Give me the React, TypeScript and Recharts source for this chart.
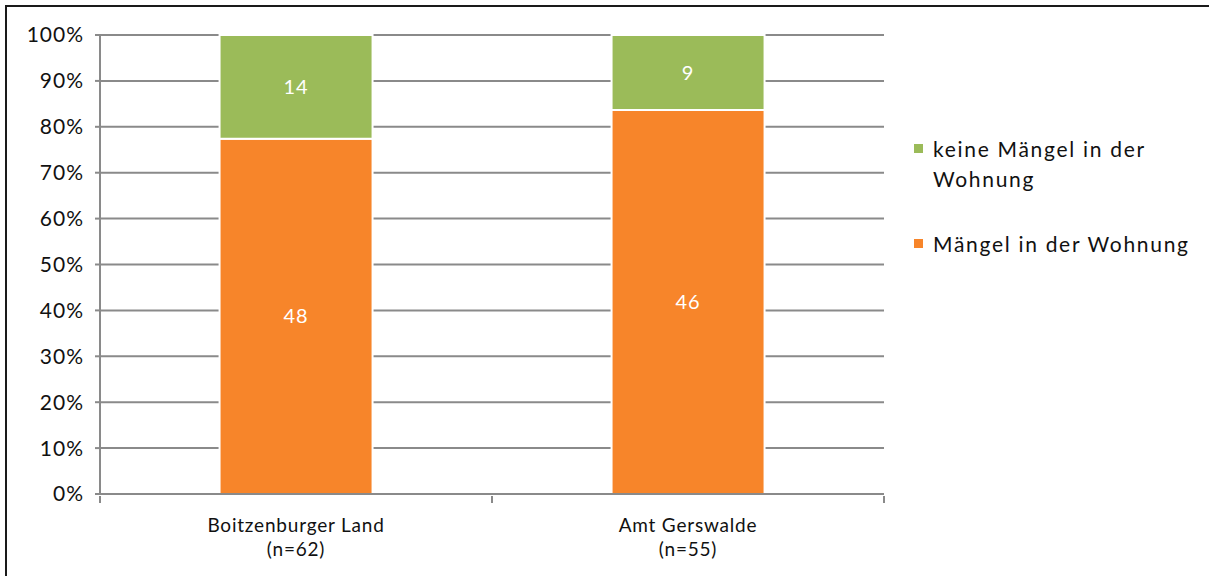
import React from 'react'
import { BarChart, Bar, XAxis, YAxis, CartesianGrid, LabelList } from 'recharts'

const categories = ['Boitzenburger Land', 'Amt Gerswalde']
const sampleSizes = ['(n=62)', '(n=55)']
const maengel = [48, 46]
const keineMaengel = [14, 9]
const yTicks = [0, 0.1, 0.2, 0.3, 0.4, 0.5, 0.6, 0.7, 0.8, 0.9, 1]

const seriesNames = ['keine Mängel in der Wohnung', 'Mängel in der Wohnung']
const GREEN = '#9bbb59'
const ORANGE = '#f7852a'
const GRID = '#8a8a8a'
const FONT = 'Lato, "Open Sans", sans-serif'

const data = categories.map((c, i) => ({
  name: c,
  n: sampleSizes[i],
  maengel: maengel[i],
  keine: keineMaengel[i]
}))

const CategoryTick = (props: any) => {
  const { x, y, payload } = props
  const half = payload.offset || 0
  const row = data[payload.index]
  return (
    <g>
      <line x1={x - half} x2={x - half} y1={y - 6} y2={y + 1} stroke={GRID} strokeWidth={2} />
      <line x1={x + half} x2={x + half} y1={y - 6} y2={y + 1} stroke={GRID} strokeWidth={2} />
      <text x={x} y={y + 30} textAnchor="middle" fontSize={19} letterSpacing={0.8} fill="#111" fontFamily={FONT}>
        {payload.value}
      </text>
      <text x={x} y={y + 54} textAnchor="middle" fontSize={19} letterSpacing={0.8} fill="#111" fontFamily={FONT}>
        {row ? row.n : ''}
      </text>
    </g>
  )
}

const Legend = () => {
  const items = [
    { label: seriesNames[0], color: GREEN, top: 134 },
    { label: seriesNames[1], color: ORANGE, top: 229 }
  ]
  return (
    <>
      {items.map((it) => (
        <div
          key={it.label}
          style={{ position: 'absolute', left: 914, top: it.top, width: 290, fontFamily: FONT, fontSize: 21, lineHeight: '30px', color: '#111', letterSpacing: 1.7 }}
        >
          <span style={{ position: 'absolute', left: 0, top: 10, width: 9, height: 9, background: it.color }} />
          <div style={{ marginLeft: 19, width: it.label.length > 22 ? 240 : 275 }}>{it.label}</div>
        </div>
      ))}
    </>
  )
}

export default function App() {
  return (
    <div style={{ position: 'absolute', left: 0, top: 0, width: 1209, height: 576, overflow: 'hidden', background: '#fff' }}>
      <div style={{ position: 'absolute', left: 5, top: 5, width: 1400, height: 800, borderTop: '2px solid #1a1a1a', borderLeft: '2px solid #1a1a1a' }} />
      <div style={{ position: 'absolute', left: 0, top: 0 }}>
        <BarChart
          width={1209}
          height={576}
          data={data}
          stackOffset="expand"
          barCategoryGap="30.5%"
          margin={{ top: 35, right: 325, bottom: 30, left: 0 }}
        >
          <CartesianGrid vertical={false} stroke={GRID} strokeWidth={2} />
          <XAxis
            dataKey="name"
            height={52}
            tickLine={false}
            axisLine={{ stroke: GRID, strokeWidth: 2 }}
            tick={<CategoryTick />}
            interval={0}
          />
          <YAxis
            width={100}
            domain={[0, 1]}
            ticks={yTicks}
            tickFormatter={(v: number) => `${Math.round(v * 100)}%`}
            axisLine={{ stroke: GRID, strokeWidth: 2 }}
            tickLine={{ stroke: GRID, strokeWidth: 2 }}
            tickSize={5}
            tickMargin={11}
            tick={{ fontSize: 21, fill: '#111', fontFamily: FONT, letterSpacing: 1 }}
          />
          <Bar dataKey="maengel" stackId="a" fill={ORANGE} stroke="#fff" strokeWidth={2} isAnimationActive={false}>
            <LabelList dataKey="maengel" position="center" fill="#fff" fontSize={20} letterSpacing={1} fontFamily={FONT} />
          </Bar>
          <Bar dataKey="keine" stackId="a" fill={GREEN} stroke="#fff" strokeWidth={2} isAnimationActive={false}>
            <LabelList dataKey="keine" position="center" fill="#fff" fontSize={20} letterSpacing={1} fontFamily={FONT} />
          </Bar>
        </BarChart>
      </div>
      <Legend />
    </div>
  )
}
